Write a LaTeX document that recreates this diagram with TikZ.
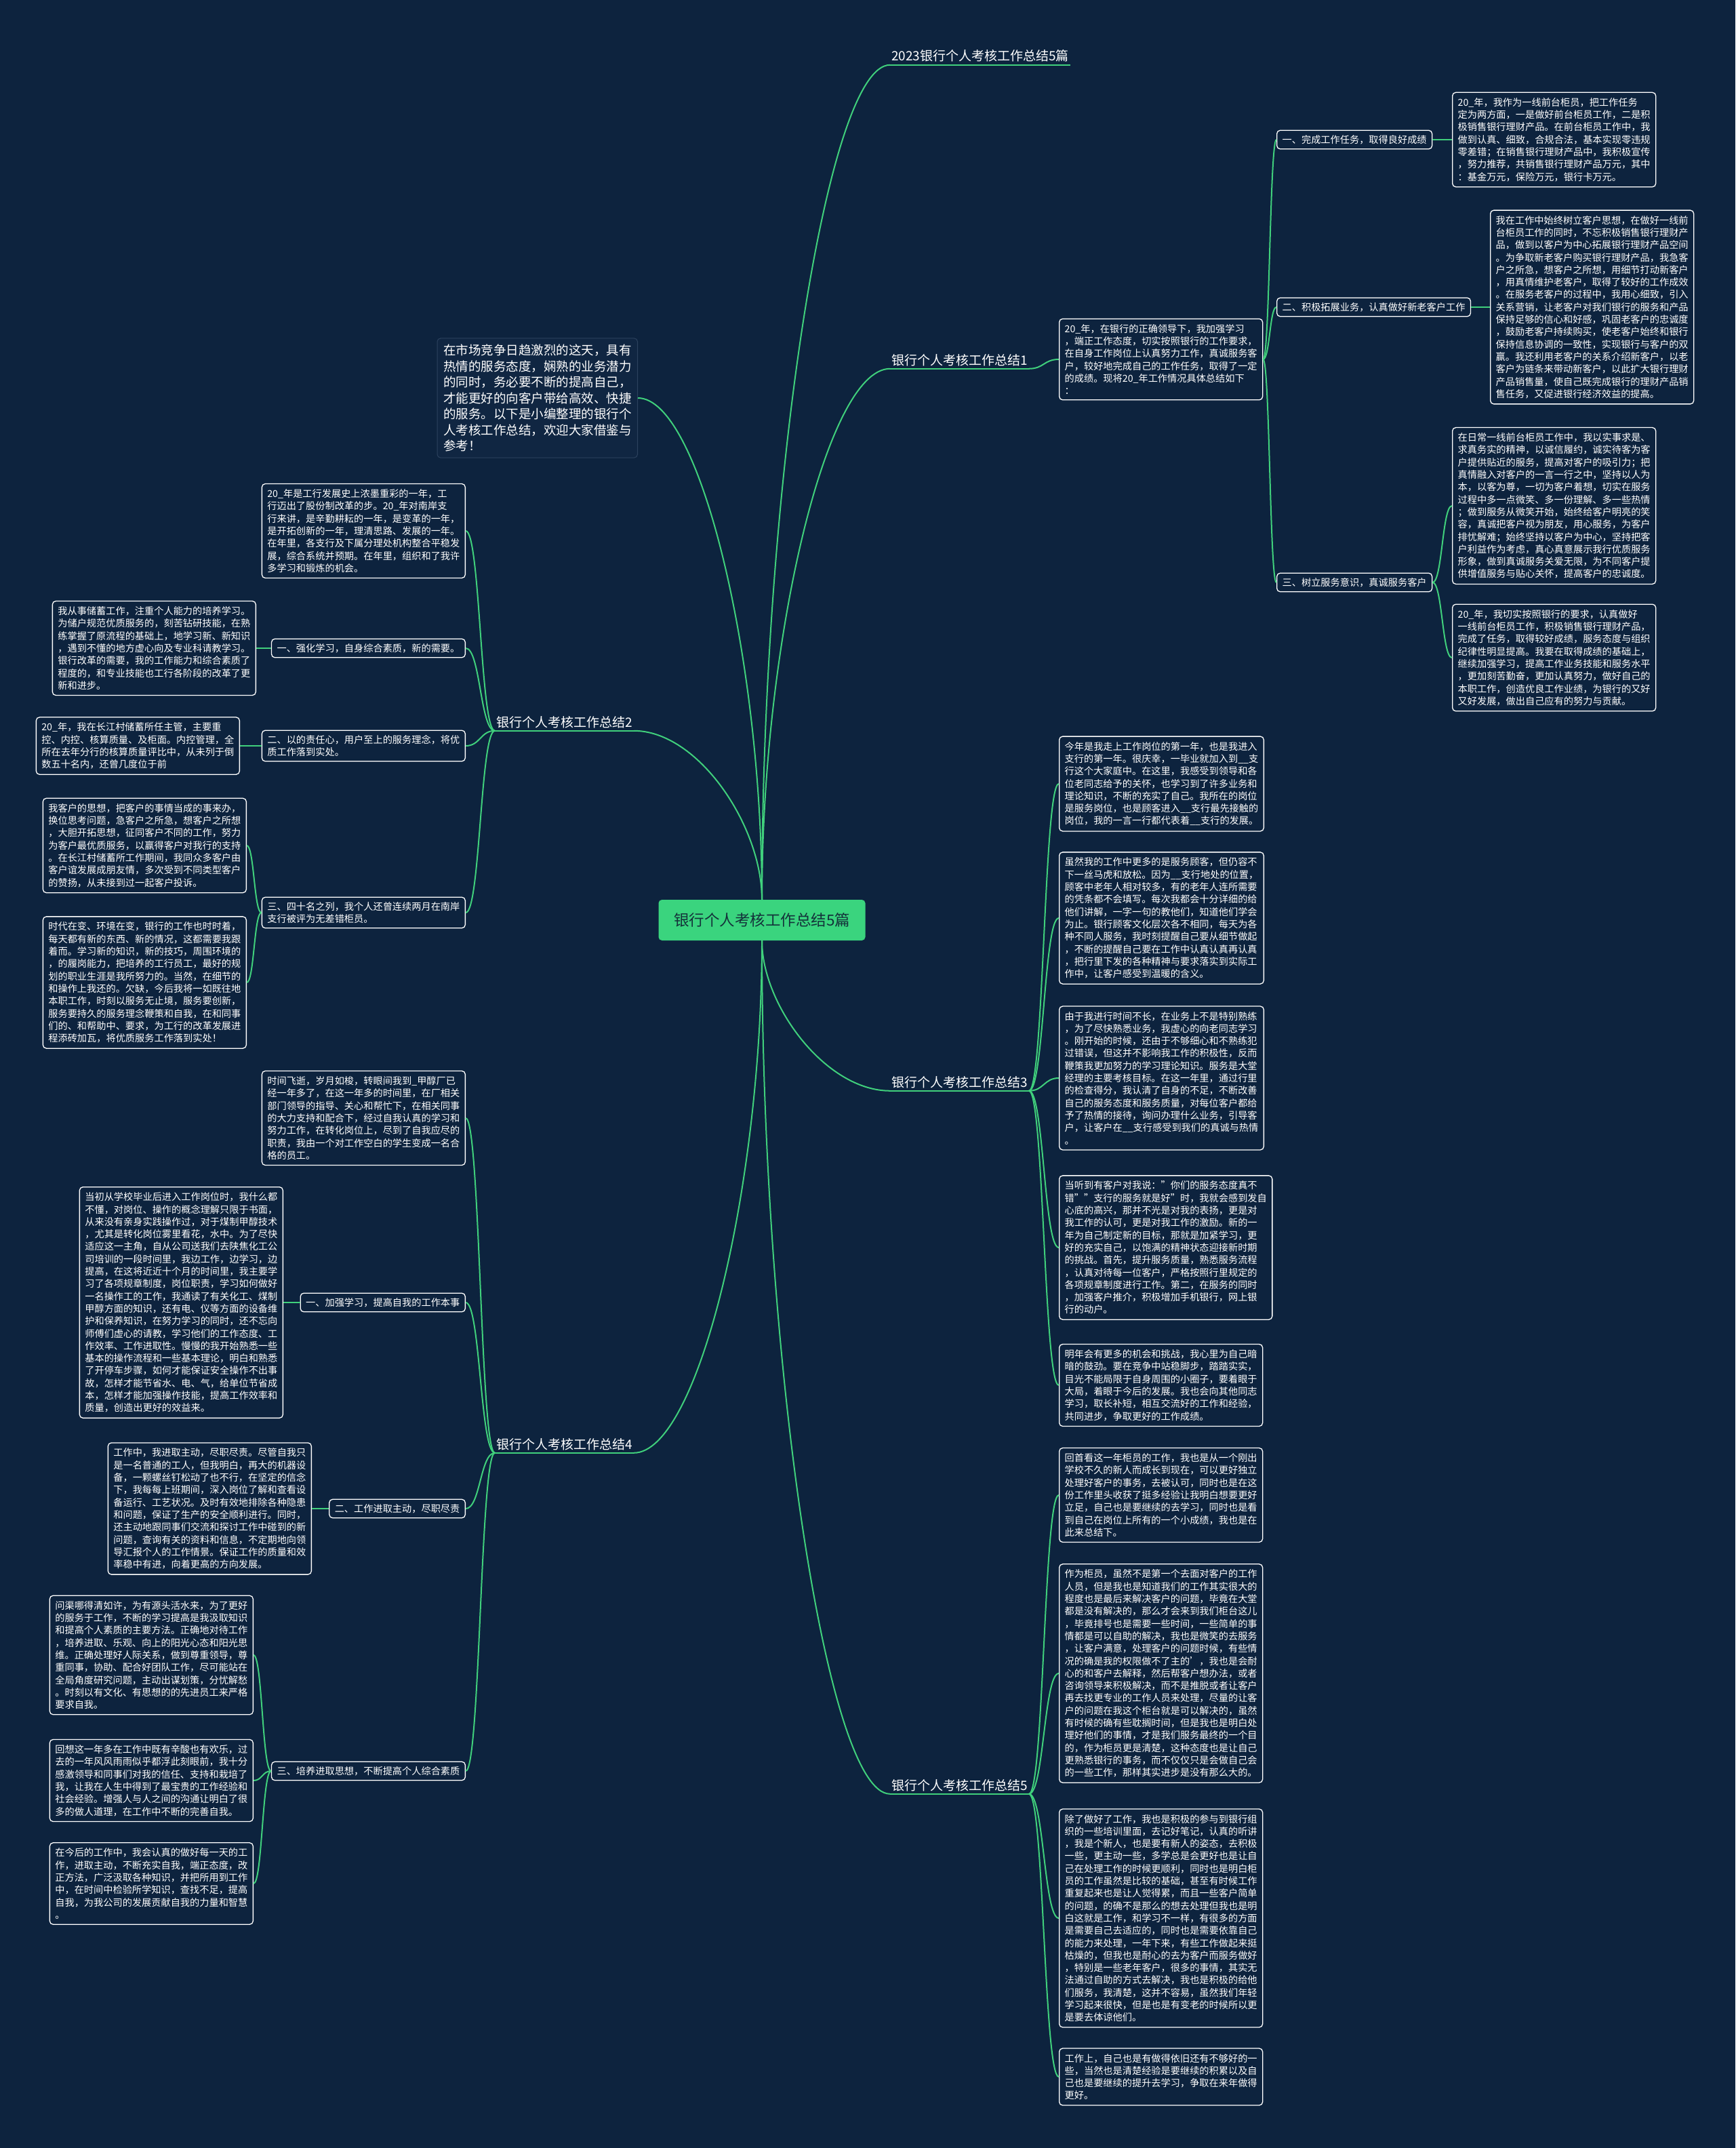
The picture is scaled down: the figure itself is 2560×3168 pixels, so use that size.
\documentclass[tikz,border=0pt]{standalone}
\usepackage{fontspec}
\setmainfont{Noto Sans CJK SC}
\usepackage{tikz}
\usetikzlibrary{calc,positioning}
\definecolor{mmBg}{RGB}{13,35,62}
\definecolor{mmGreen}{RGB}{64,208,124}
\definecolor{mmRoot}{RGB}{58,212,126}
\definecolor{mmRootText}{RGB}{20,50,58}
\definecolor{mmIntroFill}{RGB}{16,38,66}
\definecolor{mmIntroLine}{RGB}{44,66,94}
\newcommand{\leaffont}{\fontsize{14.2}{18.3}\selectfont}
\newcommand{\topicfont}{\fontsize{19}{23}\selectfont}
\newcommand{\introfont}{\fontsize{18.5}{23.5}\selectfont}
\newcommand{\rootfont}{\fontsize{22.5}{27}\selectfont}

\begin{document}
\begin{tikzpicture}[
  x=1pt, y=-1pt,
  leaf/.style={draw=white, line width=1.3pt, rounded corners=5pt, fill=mmBg,
    text=white, align=left, inner xsep=8pt, inner ysep=8pt, font=\leaffont},
  sub/.style={leaf, inner ysep=7pt},
  topic/.style={text=white, font=\topicfont, inner xsep=2pt, inner ysep=4pt},
  intro/.style={draw=mmIntroLine, line width=1pt, rounded corners=5pt, fill=mmIntroFill,
    text=white, align=left, inner xsep=9pt, inner ysep=9pt, font=\introfont},
  rootbox/.style={fill=mmRoot, rounded corners=5pt, text=mmRootText, font=\rootfont,
    minimum width=305pt, minimum height=60pt},
  link/.style={draw=mmGreen, line width=2pt},
  vcurve/.style={to path={.. controls ($(\tikztostart)!0.5!(\tikztostart |- \tikztotarget)$)
    and ($(\tikztostart |- \tikztotarget)!0.5!(\tikztotarget)$) .. (\tikztotarget) \tikztonodes}},
  hcurve/.style={to path={.. controls ($(\tikztostart)!0.5!(\tikztostart -| \tikztotarget)$)
    and ($(\tikztotarget)!0.5!(\tikztostart |- \tikztotarget)$) .. (\tikztotarget) \tikztonodes}}
]
  \fill[mmBg] (0,0) rectangle (2560,3168);
  \useasboundingbox (0,0) rectangle (2560,3168);

  \node[rootbox] (root) at (1124,1357) {银行个人考核工作总结5篇};

  \node[topic, anchor=base west] (t0) at (1313,90) {2023银行个人考核工作总结5篇};
  \node[topic, anchor=base west] (t1) at (1313,538) {银行个人考核工作总结1};
  \node[topic, anchor=base west] (t3) at (1313,1603) {银行个人考核工作总结3};
  \node[topic, anchor=base west] (t5) at (1313,2640) {银行个人考核工作总结5};
  \node[topic, anchor=base east] (t2) at (935,1072) {银行个人考核工作总结2};
  \node[topic, anchor=base east] (t4) at (935,2137) {银行个人考核工作总结4};

  \node[intro, anchor=east] (intro) at (941,587) {在市场竞争日趋激烈的这天，具有\\热情的服务态度，娴熟的业务潜力\\的同时，务必要不断的提高自己，\\才能更好的向客户带给高效、快捷\\的服务。以下是小编整理的银行个\\人考核工作总结，欢迎大家借鉴与\\参考！};

  \node[leaf, anchor=west] (b1) at (1562,530) {20\_年，在银行的正确领导下，我加强学习\\，端正工作态度，切实按照银行的工作要求，\\在自身工作岗位上认真努力工作，真诚服务客\\户，较好地完成自己的工作任务，取得了一定\\的成绩。现将20\_年工作情况具体总结如下\\：};
  \node[sub, anchor=west] (s11) at (1883,206) {一、完成工作任务，取得良好成绩};
  \node[sub, anchor=west] (s12) at (1883,453) {二、积极拓展业务，认真做好新老客户工作};
  \node[sub, anchor=west] (s13) at (1883,859) {三、树立服务意识，真诚服务客户};
  \node[leaf, anchor=west] (r11) at (2142,206) {20\_年，我作为一线前台柜员，把工作任务\\定为两方面，一是做好前台柜员工作，二是积\\极销售银行理财产品。在前台柜员工作中，我\\做到认真、细致，合规合法，基本实现零违规\\零差错；在销售银行理财产品中，我积极宣传\\，努力推荐，共销售银行理财产品万元，其中\\：基金万元，保险万元，银行卡万元。};
  \node[leaf, anchor=west] (r12) at (2198,453) {我在工作中始终树立客户思想，在做好一线前\\台柜员工作的同时，不忘积极销售银行理财产\\品，做到以客户为中心拓展银行理财产品空间\\。为争取新老客户购买银行理财产品，我急客\\户之所急，想客户之所想，用细节打动新客户\\，用真情维护老客户，取得了较好的工作成效\\。在服务老客户的过程中，我用心细致，引入\\关系营销，让老客户对我们银行的服务和产品\\保持足够的信心和好感，巩固老客户的忠诚度\\，鼓励老客户持续购买，使老客户始终和银行\\保持信息协调的一致性，实现银行与客户的双\\赢。我还利用老客户的关系介绍新客户，以老\\客户为链条来带动新客户，以此扩大银行理财\\产品销售量，使自己既完成银行的理财产品销\\售任务，又促进银行经济效益的提高。};
  \node[leaf, anchor=west] (r13a) at (2142,746) {在日常一线前台柜员工作中，我以实事求是、\\求真务实的精神，以诚信履约，诚实待客为客\\户提供贴近的服务，提高对客户的吸引力；把\\真情融入对客户的一言一行之中，坚持以人为\\本，以客为尊，一切为客户着想，切实在服务\\过程中多一点微笑、多一份理解、多一些热情\\；做到服务从微笑开始，始终给客户明亮的笑\\容，真诚把客户视为朋友，用心服务，为客户\\排忧解难；始终坚持以客户为中心，坚持把客\\户利益作为考虑，真心真意展示我行优质服务\\形象，做到真诚服务关爱无限，为不同客户提\\供增值服务与贴心关怀，提高客户的忠诚度。};
  \node[leaf, anchor=west] (r13b) at (2142,970) {20\_年，我切实按照银行的要求，认真做好\\一线前台柜员工作，积极销售银行理财产品，\\完成了任务，取得较好成绩，服务态度与组织\\纪律性明显提高。我要在取得成绩的基础上，\\继续加强学习，提高工作业务技能和服务水平\\，更加刻苦勤奋，更加认真努力，做好自己的\\本职工作，创造优良工作业绩，为银行的又好\\又好发展，做出自己应有的努力与贡献。};

  \node[leaf, anchor=west] (r31) at (1562,1156) {今年是我走上工作岗位的第一年，也是我进入\\支行的第一年。很庆幸，一毕业就加入到\_\_支\\行这个大家庭中。在这里，我感受到领导和各\\位老同志给予的关怀，也学习到了许多业务和\\理论知识，不断的充实了自己。我所在的岗位\\是服务岗位，也是顾客进入\_\_支行最先接触的\\岗位，我的一言一行都代表着\_\_支行的发展。};
  \node[leaf, anchor=west] (r32) at (1562,1354) {虽然我的工作中更多的是服务顾客，但仍容不\\下一丝马虎和放松。因为\_\_支行地处的位置，\\顾客中老年人相对较多，有的老年人连所需要\\的凭条都不会填写。每次我都会十分详细的给\\他们讲解，一字一句的教他们，知道他们学会\\为止。银行顾客文化层次各不相同，每天为各\\种不同人服务，我时刻提醒自己要从细节做起\\，不断的提醒自己要在工作中认真认真再认真\\，把行里下发的各种精神与要求落实到实际工\\作中，让客户感受到温暖的含义。};
  \node[leaf, anchor=west] (r33) at (1562,1590) {由于我进行时间不长，在业务上不是特别熟练\\，为了尽快熟悉业务，我虚心的向老同志学习\\。刚开始的时候，还由于不够细心和不熟练犯\\过错误，但这并不影响我工作的积极性，反而\\鞭策我更加努力的学习理论知识。服务是大堂\\经理的主要考核目标。在这一年里，通过行里\\的检查得分，我认清了自身的不足，不断改善\\自己的服务态度和服务质量，对每位客户都给\\予了热情的接待，询问办理什么业务，引导客\\户，让客户在\_\_支行感受到我们的真诚与热情\\。};
  \node[leaf, anchor=west] (r34) at (1562,1840) {当听到有客户对我说："你们的服务态度真不\\错""支行的服务就是好"时，我就会感到发自\\心底的高兴，那并不光是对我的表扬，更是对\\我工作的认可，更是对我工作的激励。新的一\\年为自己制定新的目标，那就是加紧学习，更\\好的充实自己，以饱满的精神状态迎接新时期\\的挑战。首先，提升服务质量，熟悉服务流程\\，认真对待每一位客户，严格按照行里规定的\\各项规章制度进行工作。第二，在服务的同时\\，加强客户推介，积极增加手机银行，网上银\\行的动户。};
  \node[leaf, anchor=west] (r35) at (1562,2043) {明年会有更多的机会和挑战，我心里为自己暗\\暗的鼓劲。要在竞争中站稳脚步，踏踏实实，\\目光不能局限于自身周围的小圈子，要着眼于\\大局，着眼于今后的发展。我也会向其他同志\\学习，取长补短，相互交流好的工作和经验，\\共同进步，争取更好的工作成绩。};

  \node[leaf, anchor=west] (r51) at (1562,2205) {回首看这一年柜员的工作，我也是从一个刚出\\学校不久的新人而成长到现在，可以更好独立\\处理好客户的事务，去被认可，同时也是在这\\份工作里头收获了挺多经验让我明白想要更好\\立足，自己也是要继续的去学习，同时也是看\\到自己在岗位上所有的一个小成绩，我也是在\\此来总结下。};
  \node[leaf, anchor=west] (r52) at (1562,2468) {作为柜员，虽然不是第一个去面对客户的工作\\人员，但是我也是知道我们的工作其实很大的\\程度也是最后来解决客户的问题，毕竟在大堂\\都是没有解决的，那么才会来到我们柜台这儿\\，毕竟排号也是需要一些时间，一些简单的事\\情都是可以自助的解决，我也是微笑的去服务\\，让客户满意，处理客户的问题时候，有些情\\况的确是我的权限做不了主的'，我也是会耐\\心的和客户去解释，然后帮客户想办法，或者\\咨询领导来积极解决，而不是推脱或者让客户\\再去找更专业的工作人员来处理，尽量的让客\\户的问题在我这个柜台就是可以解决的，虽然\\有时候的确有些耽搁时间，但是我也是明白处\\理好他们的事情，才是我们服务最终的一个目\\的，作为柜员更是清楚，这种态度也是让自己\\更熟悉银行的事务，而不仅仅只是会做自己会\\的一些工作，那样其实进步是没有那么大的。};
  \node[leaf, anchor=west] (r53) at (1562,2829) {除了做好了工作，我也是积极的参与到银行组\\织的一些培训里面，去记好笔记，认真的听讲\\，我是个新人，也是要有新人的姿态，去积极\\一些，更主动一些，多学总是会更好也是让自\\己在处理工作的时候更顺利，同时也是明白柜\\员的工作虽然是比较的基础，甚至有时候工作\\重复起来也是让人觉得累，而且一些客户简单\\的问题，的确不是那么的想去处理但我也是明\\白这就是工作，和学习不一样，有很多的方面\\是需要自己去适应的，同时也是需要依靠自己\\的能力来处理，一年下来，有些工作做起来挺\\枯燥的，但我也是耐心的去为客户而服务做好\\，特别是一些老年客户，很多的事情，其实无\\法通过自助的方式去解决，我也是积极的给他\\们服务，我清楚，这并不容易，虽然我们年轻\\学习起来很快，但是也是有变老的时候所以更\\是要去体谅他们。};
  \node[leaf, anchor=west] (r54) at (1562,3063) {工作上，自己也是有做得依旧还有不够好的一\\些，当然也是清楚经验是要继续的积累以及自\\己也是要继续的提升去学习，争取在来年做得\\更好。};

  \node[leaf, anchor=east] (l20) at (687,783) {20\_年是工行发展史上浓墨重彩的一年，工\\行迈出了股份制改革的步。20\_年对南岸支\\行来讲，是辛勤耕耘的一年，是变革的一年，\\是开拓创新的一年，理清思路、发展的一年。\\在年里，各支行及下属分理处机构整合平稳发\\展，综合系统并预期。在年里，组织和了我许\\多学习和锻炼的机会。};
  \node[sub, anchor=east] (s21) at (687,956) {一、强化学习，自身综合素质，新的需要。};
  \node[sub, anchor=east] (s22) at (687,1100) {二、以的责任心，用户至上的服务理念，将优\\质工作落到实处。};
  \node[sub, anchor=east] (s23) at (687,1346) {三、四十名之列，我个人还曾连续两月在南岸\\支行被评为无差错柜员。};
  \node[leaf, anchor=east] (l21) at (378,956) {我从事储蓄工作，注重个人能力的培养学习。\\为储户规范优质服务的，刻苦钻研技能，在熟\\练掌握了原流程的基础上，地学习新、新知识\\，遇到不懂的地方虚心向及专业科请教学习。\\银行改革的需要，我的工作能力和综合素质了\\程度的，和专业技能也工行各阶段的改革了更\\新和进步。};
  \node[leaf, anchor=east] (l22) at (354,1100) {20\_年，我在长江村储蓄所任主管，主要重\\控、内控、核算质量、及柜面。内控管理，全\\所在去年分行的核算质量评比中，从未列于倒\\数五十名内，还曾几度位于前};
  \node[leaf, anchor=east] (l23a) at (364,1247) {我客户的思想，把客户的事情当成的事来办，\\换位思考问题，急客户之所急，想客户之所想\\，大胆开拓思想，征同客户不同的工作，努力\\为客户最优质服务，以赢得客户对我行的支持\\。在长江村储蓄所工作期间，我同众多客户由\\客户谊发展成朋友情，多次受到不同类型客户\\的赞扬，从未接到过一起客户投诉。};
  \node[leaf, anchor=east] (l23b) at (364,1449) {时代在变、环境在变，银行的工作也时时着，\\每天都有新的东西、新的情况，这都需要我跟\\着而。学习新的知识，新的技巧，周围环境的\\，的履岗能力，把培养的工行员工，最好的规\\划的职业生涯是我所努力的。当然，在细节的\\和操作上我还的。欠缺，今后我将一如既往地\\本职工作，时刻以服务无止境，服务要创新，\\服务要持久的服务理念鞭策和自我，在和同事\\们的、和帮助中、要求，为工行的改革发展进\\程添砖加瓦，将优质服务工作落到实处！};

  \node[leaf, anchor=east] (l40) at (687,1649) {时间飞逝，岁月如梭，转眼间我到\_甲醇厂已\\经一年多了，在这一年多的时间里，在厂相关\\部门领导的指导、关心和帮忙下，在相关同事\\的大力支持和配合下，经过自我认真的学习和\\努力工作，在转化岗位上，尽到了自我应尽的\\职责，我由一个对工作空白的学生变成一名合\\格的员工。};
  \node[sub, anchor=east] (s41) at (687,1921) {一、加强学习，提高自我的工作本事};
  \node[sub, anchor=east] (s42) at (687,2225) {二、工作进取主动，尽职尽责};
  \node[sub, anchor=east] (s43) at (687,2612) {三、培养进取思想，不断提高个人综合素质};
  \node[leaf, anchor=east] (l41) at (418,1921) {当初从学校毕业后进入工作岗位时，我什么都\\不懂，对岗位、操作的概念理解只限于书面，\\从来没有亲身实践操作过，对于煤制甲醇技术\\，尤其是转化岗位雾里看花，水中。为了尽快\\适应这一主角，自从公司送我们去陕焦化工公\\司培训的一段时间里，我边工作，边学习，边\\提高，在这将近近十个月的时间里，我主要学\\习了各项规章制度，岗位职责，学习如何做好\\一名操作工的工作，我通读了有关化工、煤制\\甲醇方面的知识，还有电、仪等方面的设备维\\护和保养知识，在努力学习的同时，还不忘向\\师傅们虚心的请教，学习他们的工作态度、工\\作效率、工作进取性。慢慢的我开始熟悉一些\\基本的操作流程和一些基本理论，明白和熟悉\\了开停车步骤，如何才能保证安全操作不出事\\故，怎样才能节省水、电、气，给单位节省成\\本，怎样才能加强操作技能，提高工作效率和\\质量，创造出更好的效益来。};
  \node[leaf, anchor=east] (l42) at (460,2225) {工作中，我进取主动，尽职尽责。尽管自我只\\是一名普通的工人，但我明白，再大的机器设\\备，一颗螺丝钉松动了也不行，在坚定的信念\\下，我每每上班期间，深入岗位了解和查看设\\备运行、工艺状况。及时有效地排除各种隐患\\和问题，保证了生产的安全顺利进行。同时，\\还主动地跟同事们交流和探讨工作中碰到的新\\问题，查询有关的资料和信息，不定期地向领\\导汇报个人的工作情景。保证工作的质量和效\\率稳中有进，向着更高的方向发展。};
  \node[leaf, anchor=east] (l43a) at (374,2441) {问渠哪得清如许，为有源头活水来，为了更好\\的服务于工作，不断的学习提高是我汲取知识\\和提高个人素质的主要方法。正确地对待工作\\，培养进取、乐观、向上的阳光心态和阳光思\\维。正确处理好人际关系，做到尊重领导，尊\\重同事，协助、配合好团队工作，尽可能站在\\全局角度研究问题，主动出谋划策，分忧解愁\\。时刻以有文化、有思想的的先进员工来严格\\要求自我。};
  \node[leaf, anchor=east] (l43b) at (374,2626) {回想这一年多在工作中既有辛酸也有欢乐，过\\去的一年风风雨雨似乎都浮此刻眼前，我十分\\感激领导和同事们对我的信任、支持和栽培了\\我，让我在人生中得到了最宝贵的工作经验和\\社会经验。增强人与人之间的沟通让明白了很\\多的做人道理，在工作中不断的完善自我。};
  \node[leaf, anchor=east] (l43c) at (374,2778) {在今后的工作中，我会认真的做好每一天的工\\作，进取主动，不断充实自我，端正态度，改\\正方法，广泛汲取各种知识，并把所用到工作\\中，在时间中检验所学知识，查找不足，提高\\自我，为我公司的发展贡献自我的力量和智慧\\。};

  \foreach \t in {t0,t1,t2,t3,t4,t5}
    \draw[link] (\t.south west) -- (\t.south east);

  \draw[link] (root) to[vcurve] (t0.south west);
  \draw[link] (root) to[vcurve] (t1.south west);
  \draw[link] (root) to[vcurve] (t3.south west);
  \draw[link] (root) to[vcurve] (t5.south west);
  \draw[link] (root) to[vcurve] (intro.east);
  \draw[link] (root) to[vcurve] (t2.south east);
  \draw[link] (root) to[vcurve] (t4.south east);

  \draw[link] (t1.south east) to[hcurve] (b1.west);
  \draw[link] (b1.east) to[hcurve] (s11.west);
  \draw[link] (b1.east) to[hcurve] (s12.west);
  \draw[link] (b1.east) to[hcurve] (s13.west);
  \draw[link] (s11.east) to[hcurve] (r11.west);
  \draw[link] (s12.east) to[hcurve] (r12.west);
  \draw[link] (s13.east) to[hcurve] (r13a.west);
  \draw[link] (s13.east) to[hcurve] (r13b.west);

  \draw[link] (t3.south east) to[hcurve] (r31.west);
  \draw[link] (t3.south east) to[hcurve] (r32.west);
  \draw[link] (t3.south east) to[hcurve] (r33.west);
  \draw[link] (t3.south east) to[hcurve] (r34.west);
  \draw[link] (t3.south east) to[hcurve] (r35.west);

  \draw[link] (t5.south east) to[hcurve] (r51.west);
  \draw[link] (t5.south east) to[hcurve] (r52.west);
  \draw[link] (t5.south east) to[hcurve] (r53.west);
  \draw[link] (t5.south east) to[hcurve] (r54.west);

  \draw[link] (t2.south west) to[hcurve] (l20.east);
  \draw[link] (t2.south west) to[hcurve] (s21.east);
  \draw[link] (t2.south west) to[hcurve] (s22.east);
  \draw[link] (t2.south west) to[hcurve] (s23.east);
  \draw[link] (s21.west) to[hcurve] (l21.east);
  \draw[link] (s22.west) to[hcurve] (l22.east);
  \draw[link] (s23.west) to[hcurve] (l23a.east);
  \draw[link] (s23.west) to[hcurve] (l23b.east);

  \draw[link] (t4.south west) to[hcurve] (l40.east);
  \draw[link] (t4.south west) to[hcurve] (s41.east);
  \draw[link] (t4.south west) to[hcurve] (s42.east);
  \draw[link] (t4.south west) to[hcurve] (s43.east);
  \draw[link] (s41.west) to[hcurve] (l41.east);
  \draw[link] (s42.west) to[hcurve] (l42.east);
  \draw[link] (s43.west) to[hcurve] (l43a.east);
  \draw[link] (s43.west) to[hcurve] (l43b.east);
  \draw[link] (s43.west) to[hcurve] (l43c.east);
\end{tikzpicture}
\end{document}
